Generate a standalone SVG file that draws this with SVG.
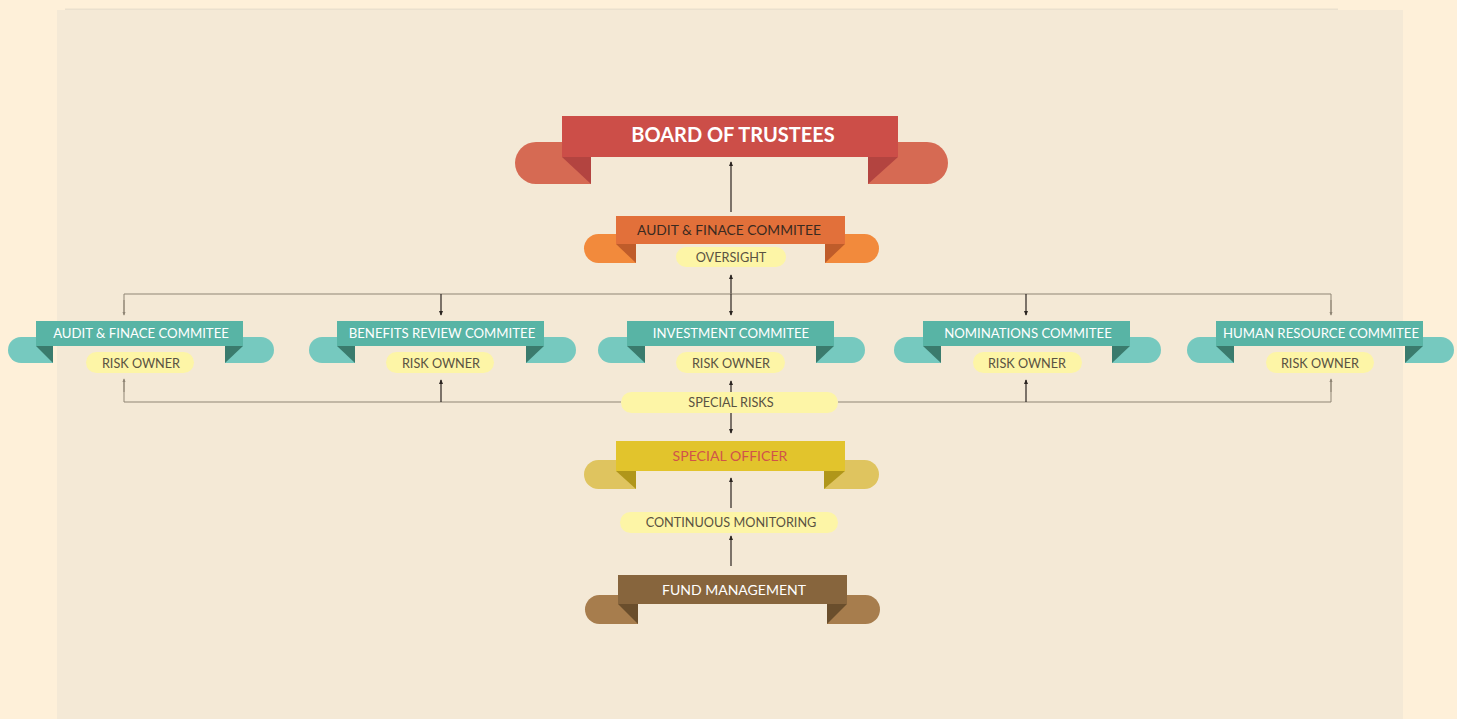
<svg xmlns="http://www.w3.org/2000/svg" width="1457" height="719" viewBox="0 0 1457 719">
<style>
.t{font-family:Lato,"Open Sans","Liberation Sans",sans-serif;text-anchor:middle}
.com{font-size:13.2px;fill:#ffffff}
.pill{fill:#FDF5A6}
.pt{font-size:12.7px;fill:#5a5242}
.tm{fill:#58B4A5}.tt{fill:#76C9BF}.tf{fill:#3A7B6D}
.dk{stroke:#2a2420;stroke-width:1.2;fill:none}
.gr{stroke:#8f8575;stroke-width:1;fill:none}
</style>
<defs>
<marker id="ah" viewBox="0 0 6 6" refX="5" refY="3" markerWidth="4" markerHeight="4" orient="auto">
<path d="M0,0.5 L6,3 L0,5.5 Z" fill="#2a2420"/>
</marker>
<marker id="ag" viewBox="0 0 6 6" refX="5" refY="3" markerWidth="4" markerHeight="4" orient="auto">
<path d="M0,0.5 L6,3 L0,5.5 Z" fill="#8f8575"/>
</marker>
</defs>
<rect x="0" y="0" width="1457" height="719" fill="#FEF0D9"/>
<rect x="57" y="10" width="1346" height="709" fill="#F4E9D6"/>
<rect x="65" y="8.5" width="1273" height="1.5" fill="#EAE0CE"/>

<g id="connectors">
<line class="dk" x1="731" y1="212" x2="731" y2="162" marker-end="url(#ah)"/>
<line class="dk" x1="731" y1="294" x2="731" y2="275" marker-end="url(#ah)"/>
<polyline class="gr" points="124,314 124,294 1331,294 1331,314"/>
<line class="dk" x1="731" y1="294" x2="731" y2="315" marker-end="url(#ah)"/>
<line class="dk" x1="441" y1="294" x2="441" y2="315" marker-end="url(#ah)"/>
<line class="dk" x1="1026" y1="294" x2="1026" y2="315" marker-end="url(#ah)"/>
<line class="gr" x1="124" y1="300" x2="124" y2="315" marker-end="url(#ag)"/>
<line class="gr" x1="1331" y1="300" x2="1331" y2="315" marker-end="url(#ag)"/>
<polyline class="gr" points="124,380 124,402 621,402"/>
<polyline class="gr" points="838,402 1331,402 1331,380"/>
<line class="gr" x1="124" y1="392" x2="124" y2="379" marker-end="url(#ag)"/>
<line class="gr" x1="1331" y1="392" x2="1331" y2="379" marker-end="url(#ag)"/>
<line class="dk" x1="441" y1="402" x2="441" y2="380" marker-end="url(#ah)"/>
<line class="dk" x1="1026" y1="402" x2="1026" y2="380" marker-end="url(#ah)"/>
<line class="dk" x1="731" y1="392" x2="731" y2="381" marker-end="url(#ah)"/>
<line class="dk" x1="731" y1="413" x2="731" y2="433" marker-end="url(#ah)"/>
<line class="dk" x1="731" y1="508" x2="731" y2="478" marker-end="url(#ah)"/>
<line class="dk" x1="731" y1="566" x2="731" y2="536" marker-end="url(#ah)"/>
</g>

<g id="board">
<path d="M591,142 H536 A21,21 0 0 0 536,184 H591 Z" fill="#D66A53"/>
<path d="M868,142 H927 A21,21 0 0 1 927,184 H868 Z" fill="#D66A53"/>
<rect x="562" y="116" width="336" height="41" fill="#CC4E48"/>
<path d="M562,157 L591,157 L591,184 Z" fill="#B34440"/>
<path d="M868,157 L898,157 L868,184 Z" fill="#B34440"/>
<text class="t" x="733" y="142" font-family="'Open Sans',sans-serif" font-size="20" font-weight="bold" fill="#ffffff">BOARD OF TRUSTEES</text>
</g>

<g id="audit-top">
<path d="M636,234 H598.5 A14.5,14.5 0 0 0 598.5,263 H636 Z" fill="#F28A3C"/>
<path d="M825,234 H864.5 A14.5,14.5 0 0 1 864.5,263 H825 Z" fill="#F28A3C"/>
<rect x="616" y="216" width="229" height="28" fill="#E2703A"/>
<path d="M616,244 L636,244 L636,263 Z" fill="#BF5C2A"/>
<path d="M825,244 L845,244 L825,263 Z" fill="#BF5C2A"/>
<text class="t" x="729" y="235" font-size="13.8" fill="#3a2a20">AUDIT &amp; FINACE COMMITEE</text>
<rect class="pill" x="676" y="247" width="110" height="20" rx="10"/>
<text class="t pt" x="731" y="262">OVERSIGHT</text>
</g>

<g id="c-audit">
<path class="tt" d="M53,337 H21 A13,13 0 0 0 21,363 H53 Z"/>
<path class="tt" d="M225,337 H261 A13,13 0 0 1 261,363 H225 Z"/>
<rect class="tm" x="36" y="321" width="207" height="25"/>
<path class="tf" d="M36,346 L53,346 L53,363 Z"/>
<path class="tf" d="M225,346 L243,346 L225,363 Z"/>
<text class="t com" x="141" y="338">AUDIT &amp; FINACE COMMITEE</text>
<rect class="pill" x="86" y="352" width="108" height="21" rx="10.5"/>
<text class="t pt" x="141" y="368">RISK OWNER</text>
</g>

<g id="c-benefits">
<path class="tt" d="M355,337 H322 A13,13 0 0 0 322,363 H355 Z"/>
<path class="tt" d="M526,337 H563 A13,13 0 0 1 563,363 H526 Z"/>
<rect class="tm" x="337" y="321" width="207" height="25"/>
<path class="tf" d="M337,346 L355,346 L355,363 Z"/>
<path class="tf" d="M526,346 L544,346 L526,363 Z"/>
<text class="t com" x="442" y="338">BENEFITS REVIEW COMMITEE</text>
<rect class="pill" x="386" y="352" width="108" height="21" rx="10.5"/>
<text class="t pt" x="441" y="368">RISK OWNER</text>
</g>

<g id="c-investment">
<path class="tt" d="M645,337 H611 A13,13 0 0 0 611,363 H645 Z"/>
<path class="tt" d="M816,337 H852 A13,13 0 0 1 852,363 H816 Z"/>
<rect class="tm" x="627" y="321" width="207" height="25"/>
<path class="tf" d="M627,346 L645,346 L645,363 Z"/>
<path class="tf" d="M816,346 L834,346 L816,363 Z"/>
<text class="t com" x="731" y="338">INVESTMENT COMMITEE</text>
<rect class="pill" x="676" y="352" width="109" height="21" rx="10.5"/>
<text class="t pt" x="731" y="368">RISK OWNER</text>
</g>

<g id="c-nominations">
<path class="tt" d="M941,337 H907 A13,13 0 0 0 907,363 H941 Z"/>
<path class="tt" d="M1112,337 H1148 A13,13 0 0 1 1148,363 H1112 Z"/>
<rect class="tm" x="923" y="321" width="207" height="25"/>
<path class="tf" d="M923,346 L941,346 L941,363 Z"/>
<path class="tf" d="M1112,346 L1130,346 L1112,363 Z"/>
<text class="t com" x="1028" y="338">NOMINATIONS COMMITEE</text>
<rect class="pill" x="973" y="352" width="109" height="21" rx="10.5"/>
<text class="t pt" x="1027" y="368">RISK OWNER</text>
</g>

<g id="c-hr">
<path class="tt" d="M1234,337 H1200 A13,13 0 0 0 1200,363 H1234 Z"/>
<path class="tt" d="M1405,337 H1441 A13,13 0 0 1 1441,363 H1405 Z"/>
<rect class="tm" x="1216" y="321" width="207" height="25"/>
<path class="tf" d="M1216,346 L1234,346 L1234,363 Z"/>
<path class="tf" d="M1405,346 L1423,346 L1405,363 Z"/>
<text class="t com" x="1321" y="338">HUMAN RESOURCE COMMITEE</text>
<rect class="pill" x="1266" y="352" width="108" height="21" rx="10.5"/>
<text class="t pt" x="1320" y="368">RISK OWNER</text>
</g>

<g id="special-risks">
<rect class="pill" x="621" y="392" width="217" height="21" rx="10.5"/>
<text class="t pt" x="731" y="407" font-size="12.4">SPECIAL RISKS</text>
</g>

<g id="special-officer">
<path d="M636,460 H598.5 A14.5,14.5 0 0 0 598.5,489 H636 Z" fill="#DFC45F"/>
<path d="M824,460 H864.5 A14.5,14.5 0 0 1 864.5,489 H824 Z" fill="#DFC45F"/>
<rect x="616" y="441" width="229" height="30" fill="#E2C42C"/>
<path d="M616,471 L636,471 L636,489 Z" fill="#B0961A"/>
<path d="M824,471 L845,471 L824,489 Z" fill="#B0961A"/>
<text class="t" x="730" y="461" font-size="14.1" fill="#D0534A">SPECIAL OFFICER</text>
</g>

<g id="monitoring">
<rect class="pill" x="620" y="512" width="218" height="21" rx="10.5"/>
<text class="t pt" x="731" y="527" font-size="13.3">CONTINUOUS MONITORING</text>
</g>

<g id="fund-management">
<path d="M638,595 H599.5 A14.5,14.5 0 0 0 599.5,624 H638 Z" fill="#A77D4D"/>
<path d="M827,595 H865.5 A14.5,14.5 0 0 1 865.5,624 H827 Z" fill="#A77D4D"/>
<rect x="618" y="575" width="229" height="29" fill="#87653D"/>
<path d="M618,604 L638,604 L638,624 Z" fill="#6A4E2C"/>
<path d="M827,604 L847,604 L827,624 Z" fill="#6A4E2C"/>
<text class="t" x="734" y="595" font-size="14" fill="#ffffff">FUND MANAGEMENT</text>
</g>
</svg>
